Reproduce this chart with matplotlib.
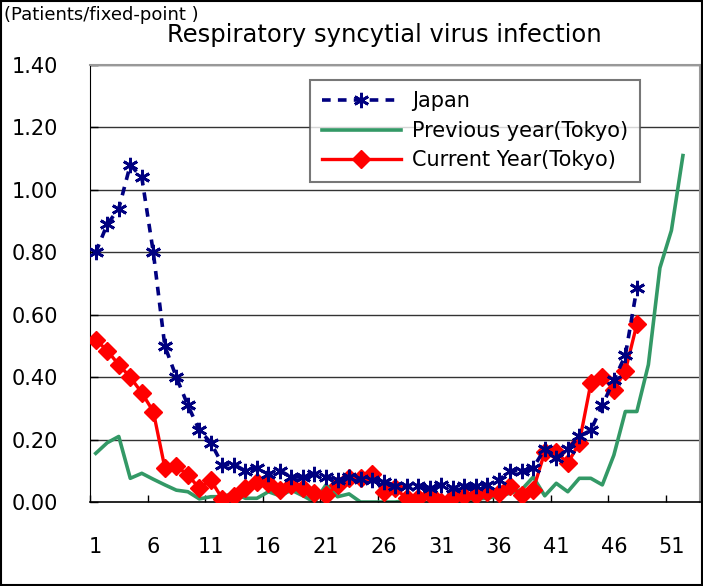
import matplotlib
matplotlib.use("Agg")
import matplotlib.pyplot as plt
from matplotlib.patches import Rectangle

# week numbers
weeks_jp = list(range(1, 49))
weeks_prev = list(range(1, 53))
weeks_cur = list(range(1, 49))

japan = [0.80, 0.89, 0.94, 1.08, 1.04, 0.80, 0.50, 0.40, 0.31, 0.23,
         0.19, 0.12, 0.12, 0.10, 0.11, 0.09, 0.10, 0.08, 0.08, 0.09,
         0.08, 0.07, 0.08, 0.075, 0.07, 0.065, 0.05, 0.05, 0.05, 0.045,
         0.055, 0.045, 0.05, 0.05, 0.055, 0.07, 0.10, 0.10, 0.11, 0.17,
         0.14, 0.17, 0.21, 0.23, 0.31, 0.39, 0.47, 0.685]

prev_tokyo = [0.156, 0.19, 0.21, 0.076, 0.092, 0.073, 0.055, 0.038, 0.033, 0.01,
              0.017, 0.017, 0.028, 0.012, 0.012, 0.033, 0.02, 0.038, 0.02, 0.0,
              0.055, 0.017, 0.026, 0.0, 0.0, 0.0, 0.0, 0.005, 0.012, 0.03,
              0.005, 0.01, 0.0, 0.01, 0.012, 0.02, 0.028, 0.04, 0.08, 0.02,
              0.06, 0.033, 0.076, 0.076, 0.055, 0.15, 0.29, 0.29, 0.44, 0.75,
              0.87, 1.11]

cur_tokyo = [0.52, 0.485, 0.44, 0.40, 0.35, 0.29, 0.11, 0.115, 0.087, 0.044,
             0.07, 0.01, 0.02, 0.044, 0.065, 0.06, 0.04, 0.055, 0.044, 0.028,
             0.022, 0.055, 0.078, 0.076, 0.09, 0.033, 0.044, 0.012, 0.012, 0.026,
             0.0, 0.015, 0.02, 0.022, 0.033, 0.03, 0.05, 0.022, 0.04, 0.16,
             0.16, 0.124, 0.19, 0.38, 0.40, 0.36, 0.42, 0.57]

xtick_weeks = [1, 6, 11, 16, 21, 26, 31, 36, 41, 46, 51]
yticks = [0.0, 0.2, 0.4, 0.6, 0.8, 1.0, 1.2, 1.4]

fig = plt.figure(figsize=(7.03, 5.86), dpi=100)
ax = fig.add_axes([0.128, 0.1433, 0.868, 0.7457])

# gridlines
for v in yticks[1:]:
    ax.axhline(v, color='#333333', lw=1, zorder=0)

ax.plot(weeks_prev, prev_tokyo, color='#339966', lw=2.6, label='Previous year(Tokyo)', zorder=2)
ax.plot(weeks_cur, cur_tokyo, color='#ff0000', lw=2.4, marker='D', ms=9,
        label='Current Year(Tokyo)', zorder=3)
ax.plot(weeks_jp, japan, color='#000080', lw=2.6, ls=(0, (2.4, 2.0)),
        marker=(6, 2, 0), ms=11, mew=2, label='Japan', zorder=4)

ax.set_xlim(0.5, 53.5)
ax.set_ylim(0, 1.4)
ax.set_yticks(yticks)
ax.set_yticklabels([f'{v:.2f}' for v in yticks], fontsize=15)
ax.set_xticks(xtick_weeks)
ax.set_xticklabels([str(w) for w in xtick_weeks], fontsize=15)
ax.tick_params(axis='x', length=0, pad=25)
ax.set_xticks([w - 0.5 for w in xtick_weeks[1:]] + [0.5], minor=True)
ax.tick_params(axis='x', which='minor', direction='in', length=5, width=1)
ax.tick_params(axis='y', direction='in', length=6, width=1, pad=23)

for s in ['top', 'right']:
    ax.spines[s].set_color('#999999')
    ax.spines[s].set_linewidth(1.5)
ax.spines['left'].set_color('black')
ax.spines['bottom'].set_color('black')
ax.spines['bottom'].set_linewidth(1.2)

handles, labels = ax.get_legend_handles_labels()
order = [2, 0, 1]
leg = ax.legend([handles[i] for i in order], [labels[i] for i in order],
                loc='upper left', bbox_to_anchor=(0.3607, 0.9657), fontsize=15,
                handlelength=3.8, frameon=True, fancybox=False, shadow=False,
                borderaxespad=0, borderpad=0.55, labelspacing=0.45, handletextpad=0.55)
leg.get_frame().set_edgecolor('#555555')
leg.get_frame().set_linewidth(1.5)

fig.text(0.546, 0.94, 'Respiratory syncytial virus infection', ha='center', va='center',
         fontsize=17.5)
fig.text(0.006, 0.975, '(Patients/fixed-point )', ha='left', va='center', fontsize=13)

fig.patches.append(Rectangle((0.001, 0.001), 0.997, 0.997, transform=fig.transFigure,
                             fill=False, edgecolor='black', lw=1.5))

fig.savefig('out.png', dpi=100)
